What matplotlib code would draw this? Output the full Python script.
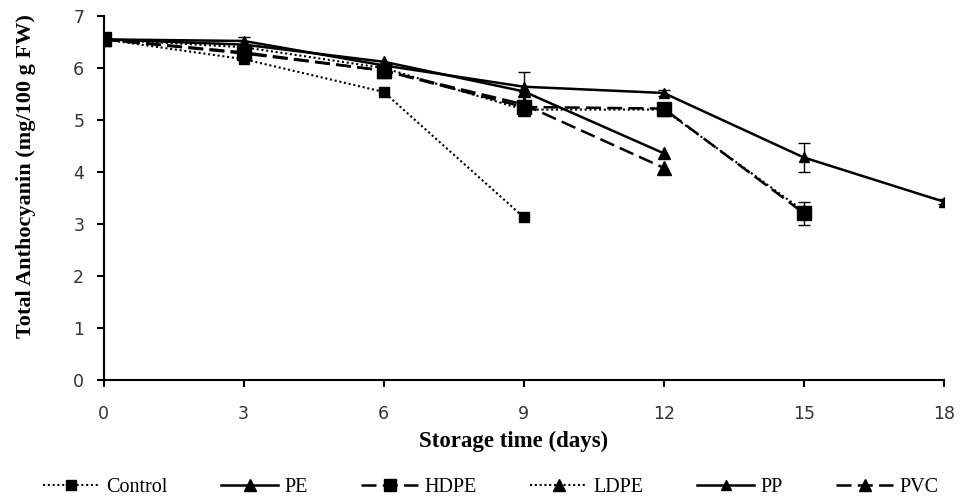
import matplotlib
matplotlib.use("Agg")
import matplotlib.pyplot as plt
from matplotlib.lines import Line2D

days = [0, 3, 6, 9, 12, 15, 18]
control = [6.55, 6.17, 5.54, 3.13]
pe = [6.55, 6.45, 6.12, 5.55, 4.36]
hdpe = [6.55, 6.28, 5.95, 5.25, 5.22, 3.21]
ldpe = [6.55, 6.40, 6.00, 5.20, 5.20, 3.25]
pp = [6.55, 6.52, 6.05, 5.64, 5.52, 4.28, 3.43]
pvc = [6.55, 6.30, 5.95, 5.30, 4.08]

control_err = [0, 0, 0, 0]
pe_err = [0, 0, 0, 0, 0]
hdpe_err = [0, 0, 0, 0.12, 0.08, 0.22]
ldpe_err = [0, 0, 0, 0, 0, 0]
pp_err = [0, 0.08, 0, 0.28, 0.06, 0.28, 0.05]
pvc_err = [0, 0, 0, 0, 0]

labels = ["Control", "PE", "HDPE", "LDPE", "PP", "PVC"]

fig = plt.figure(figsize=(9.6, 5.0), dpi=100)
ax = fig.add_axes([0.108, 0.24, 0.875, 0.728])

dot = (0, (1, 1.3))
dash = (0, (6, 2.5))
styles = [
    dict(linestyle=dot, marker='s', markersize=7, linewidth=1.5),
    dict(linestyle='-', marker='^', markersize=9, linewidth=1.8),
    dict(linestyle=dash, marker='s', markersize=10.5, linewidth=1.8),
    dict(linestyle=dot, marker='^', markersize=9, linewidth=1.5),
    dict(linestyle='-', marker='^', markersize=7, linewidth=1.8),
    dict(linestyle=dash, marker='^', markersize=10, linewidth=1.8),
]
all_vals = [control, pe, hdpe, ldpe, pp, pvc]
all_errs = [control_err, pe_err, hdpe_err, ldpe_err, pp_err, pvc_err]

for vals, err, st in zip(all_vals, all_errs, styles):
    x = days[:len(vals)]
    ax.plot(x, vals, color='black', **st)
    xs = [xi for xi, e in zip(x, err) if e > 0]
    ys = [v for v, e in zip(vals, err) if e > 0]
    es = [e for e in err if e > 0]
    if xs:
        ax.errorbar(xs, ys, yerr=es, fmt='none', ecolor='black', capsize=4,
                    elinewidth=1, capthick=1)

ax.set_xlim(0, 18)
ax.set_ylim(0, 7)
ax.set_xticks(days)
ax.set_yticks(range(0, 8))
for s in ['top', 'right']:
    ax.spines[s].set_visible(False)
for s in ['left', 'bottom']:
    ax.spines[s].set_linewidth(1.5)
ax.tick_params(direction='out', length=5, width=1.5, labelsize=12.5, colors='black')
ax.tick_params(axis='x', pad=13)
ax.tick_params(axis='y', pad=9)
for lbl in ax.get_xticklabels() + ax.get_yticklabels():
    lbl.set_fontfamily('DejaVu Sans')
    lbl.set_color('#333333')

ax.set_xlabel("Storage time (days)", fontfamily='Liberation Serif', fontweight='bold',
              fontsize=16.5)
ax.xaxis.label.set_va('center')
ax.xaxis.set_label_coords(0.488, -0.170)
ax.set_ylabel("Total Anthocyanin (mg/100 g FW)", fontfamily='Liberation Serif',
              fontweight='bold', fontsize=16)
ax.yaxis.label.set_va('center')
ax.yaxis.set_label_coords(-0.093, 0.56)

leg_sizes = [7, 9, 9, 8, 7, 8]
handles = []
for st, ms in zip(styles, leg_sizes):
    s = dict(st)
    s['markersize'] = ms
    handles.append(Line2D([], [], color='black', **s))

fig.legend(handles=handles, labels=labels, loc='center', bbox_to_anchor=(0.511, 0.025),
           ncol=6, frameon=False, handlelength=2.85, handletextpad=0.3,
           columnspacing=2.65, borderpad=0.1,
           prop={'family': 'Liberation Serif', 'size': 14.5})

fig.savefig("out.png", dpi=100)
